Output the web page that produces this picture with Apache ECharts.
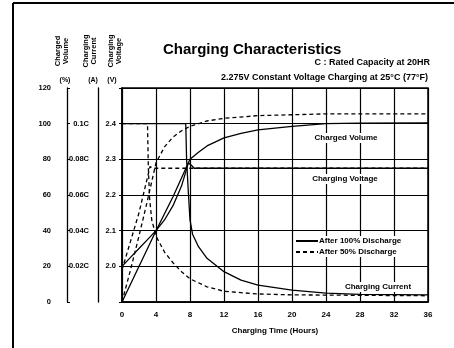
<!DOCTYPE html>
<html>
<head>
<meta charset="utf-8">
<script src="https://cdn.jsdelivr.net/npm/echarts@6/dist/echarts.min.js"></script>
<style>
  html, body { margin: 0; padding: 0; background: #fff; }
  #chart { width: 454px; height: 348px; }
</style>
</head>
<body>
<div id="chart"></div>
<script>
// Charging characteristics

// x axis ticks (hours)
var hourTicks = [0, 4, 8, 12, 16, 20, 24, 28, 32, 36];

// Charged volume (%)
var hours100Vol = [0, 4, 6, 8, 9, 10, 12, 14, 16, 20, 24, 28, 36];
var vol100 = [0, 40, 59, 80, 84, 87.5, 92, 94.5, 96.5, 98.5, 100, 100.3, 100.5];
var hours50Vol = [0, 1, 2, 3, 4, 5, 6, 7, 8, 10, 12, 16, 20, 24, 36];
var vol50 = [0, 18, 37, 57, 78, 87, 92.5, 96, 98.5, 101.5, 103, 104.5, 105, 105.5, 105.5];

// Charging voltage (V per cell)
var hours100Volt = [0, 1, 2, 3, 4, 5, 6, 7, 7.5, 7.8, 8.1, 8.5, 36];
var volt100 = [2.0, 2.025, 2.05, 2.075, 2.1, 2.13, 2.17, 2.225, 2.265, 2.29, 2.285, 2.275, 2.275];
var hours50Volt = [0, 0.5, 1, 1.5, 2, 2.5, 3, 3.3, 3.6, 36];
var volt50 = [1.99, 2.03, 2.07, 2.11, 2.15, 2.2, 2.25, 2.28, 2.275, 2.275];

// Charging current (C)
var hours100Cur = [0, 7.5, 7.6, 7.8, 8, 8.3, 9, 10, 12, 14, 16, 20, 24, 28, 36];
var cur100 = [0.1, 0.1, 0.08, 0.062, 0.046, 0.038, 0.031, 0.0245, 0.017, 0.0123, 0.0095, 0.0067, 0.005, 0.0043, 0.004];
var hours50Cur = [0, 3, 3.1, 3.25, 3.5, 4, 5, 6, 7, 8, 10, 12, 16, 20, 36];
var cur50 = [0.1, 0.1, 0.075, 0.058, 0.046, 0.037, 0.028, 0.022, 0.017, 0.013, 0.0085, 0.006, 0.0045, 0.004, 0.0035];

var NAME_100 = 'After 100% Discharge';
var NAME_50 = 'After 50% Discharge';

(function () {
  'use strict';

  var FONT = 'Liberation Sans, Arial, sans-serif';
  var INK = '#000';

  function zip(xs, ys) {
    return xs.map(function (x, i) { return [x, ys[i]]; });
  }

  function curve(name, xs, ys, axisIdx, dashed) {
    return {
      name: name,
      type: 'line',
      yAxisIndex: axisIdx,
      data: zip(xs, ys),
      symbol: 'none',
      silent: true,
      itemStyle: { color: INK },
      lineStyle: {
        color: INK,
        width: 1.3,
        type: dashed ? [4, 3] : 'solid'
      },
      z: dashed ? 2 : 3
    };
  }

  function plotText(x, y, text) {
    return {
      type: 'text',
      x: x,
      y: y,
      z: 10,
      style: {
        text: text,
        fill: INK,
        font: 'bold 8px ' + FONT,
        align: 'center',
        verticalAlign: 'middle',
        backgroundColor: '#fff',
        padding: [1, 2]
      }
    };
  }

  function sideText(x, y, text) {
    return {
      type: 'text',
      x: x,
      y: y,
      rotation: Math.PI / 2,
      style: {
        text: text,
        fill: INK,
        font: 'bold 7.5px ' + FONT,
        align: 'center',
        verticalAlign: 'middle'
      }
    };
  }

  function unitText(x, y, text) {
    return {
      type: 'text',
      x: x,
      y: y,
      style: {
        text: text,
        fill: INK,
        font: 'bold 7px ' + FONT,
        align: 'center',
        verticalAlign: 'middle'
      }
    };
  }

  var labelStyle = {
    color: INK,
    fontSize: 7.5,
    fontWeight: 'bold',
    fontFamily: FONT
  };

  var chart = echarts.init(document.getElementById('chart'));

  var option = {
    animation: false,
    backgroundColor: '#fff',
    title: {
      text: 'Charging Characteristics',
      left: 158,
      top: 37,
      textStyle: {
        fontSize: 15,
        fontWeight: 'bold',
        fontFamily: FONT,
        color: INK
      }
    },
    legend: {
      data: [NAME_100, NAME_50],
      orient: 'vertical',
      left: 295,
      top: 236,
      itemWidth: 22,
      itemHeight: 8,
      itemGap: 3,
      padding: [1, 3, 1, 0],
      backgroundColor: '#fff',
      selectedMode: false,
      itemStyle: { opacity: 0 },
      textStyle: {
        color: INK,
        fontSize: 8,
        fontWeight: 'bold',
        fontFamily: FONT,
        padding: [0, 0, 0, -4]
      }
    },
    grid: {
      left: 122,
      right: 26,
      top: 88,
      bottom: 46,
      show: true,
      borderColor: INK,
      borderWidth: 1.5
    },
    xAxis: {
      type: 'value',
      min: hourTicks[0],
      max: hourTicks[hourTicks.length - 1],
      interval: 4,
      name: 'Charging Time (Hours)',
      nameLocation: 'middle',
      nameGap: 25,
      nameTextStyle: {
        color: INK,
        fontSize: 8,
        fontWeight: 'bold',
        fontFamily: FONT
      },
      axisLine: { onZero: false, lineStyle: { color: INK, width: 1.5 } },
      axisTick: { show: false },
      axisLabel: { margin: 9, fontSize: 8, color: INK, fontWeight: 'bold', fontFamily: FONT },
      splitLine: { show: true, lineStyle: { color: INK, width: 1.2 } }
    },
    yAxis: [
      {
        // charged volume (%)
        type: 'value',
        position: 'left',
        offset: 55,
        min: 0,
        max: 120,
        interval: 20,
        axisLine: { show: true, onZero: false, lineStyle: { color: INK, width: 1.3 } },
        axisTick: { show: true, inside: true, length: 3, lineStyle: { color: INK } },
        axisLabel: Object.assign({ margin: 16 }, labelStyle),
        splitLine: { show: false }
      },
      {
        // charging current (C)
        type: 'value',
        position: 'left',
        offset: 24,
        min: 0,
        max: 0.12,
        interval: 0.02,
        axisLine: { show: true, onZero: false, lineStyle: { color: INK, width: 1.3 } },
        axisTick: { show: false },
        axisLabel: Object.assign({
          margin: 9,
          formatter: function (v) {
            return (v > 0.001 && v < 0.11) ? (+v.toFixed(2)) + 'C' : '';
          }
        }, labelStyle),
        splitLine: { show: false }
      },
      {
        // charging voltage (V)
        type: 'value',
        position: 'left',
        offset: 0,
        min: 1.9,
        max: 2.5,
        interval: 0.1,
        axisLine: { show: true, onZero: false, lineStyle: { color: INK, width: 1.5 } },
        axisTick: { show: true, length: 3, lineStyle: { color: INK } },
        axisLabel: Object.assign({
          margin: 6,
          formatter: function (v) {
            return (v > 1.95 && v < 2.45) ? v.toFixed(1) : '';
          }
        }, labelStyle),
        splitLine: { show: true, lineStyle: { color: INK, width: 1.2 } }
      }
    ],
    graphic: [
      // scan frame
      { type: 'line', shape: { x1: 13, y1: 3, x2: 454, y2: 3 }, style: { stroke: INK, lineWidth: 2 } },
      { type: 'line', shape: { x1: 13, y1: 3, x2: 13, y2: 348 }, style: { stroke: INK, lineWidth: 2 } },
      {
        type: 'text', right: 24, top: 58,
        style: { text: 'C : Rated Capacity at 20HR', fill: INK, font: 'bold 9px ' + FONT }
      },
      {
        type: 'text', right: 26, top: 73,
        style: { text: '2.275V Constant Voltage Charging at 25\u00B0C (77\u00B0F)', fill: INK, font: 'bold 9px ' + FONT }
      },
      sideText(58, 51, 'Charged'),
      sideText(66, 51, 'Volume'),
      sideText(86, 51, 'Charging'),
      sideText(94, 51, 'Current'),
      sideText(111, 51, 'Charging'),
      sideText(119, 51, 'Voltage'),
      unitText(65, 80, '(%)'),
      unitText(93, 80, '(A)'),
      unitText(112, 80, '(V)'),
      plotText(346, 138, 'Charged Volume'),
      plotText(345, 179, 'Charging Voltage'),
      plotText(378, 287, 'Charging Current')
    ],
    series: [
      curve(NAME_50, hours50Vol, vol50, 0, true),
      curve(NAME_50, hours50Volt, volt50, 2, true),
      curve(NAME_50, hours50Cur, cur50, 1, true),
      curve(NAME_100, hours100Vol, vol100, 0, false),
      curve(NAME_100, hours100Volt, volt100, 2, false),
      curve(NAME_100, hours100Cur, cur100, 1, false)
    ]
  };

  chart.setOption(option);

  window.addEventListener('resize', function () {
    chart.resize();
  });
})();
</script>
</body>
</html>
